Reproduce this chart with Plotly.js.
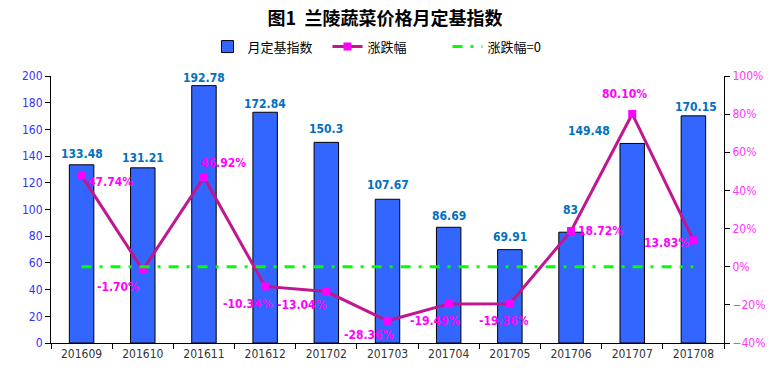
<!DOCTYPE html>
<html><head><meta charset="utf-8">
<script src="https://cdn.plot.ly/plotly-3.0.1.min.js"></script>
<style>body{margin:0;background:#fff}#chart{width:770px;height:374px}</style>
</head><body><div id="chart"></div>
<script>
const categories = ['201609','201610','201611','201612','201702','201703','201704','201705','201706','201707','201708'];
const indexValues = [133.48,131.21,192.78,172.84,150.3,107.67,86.69,69.91,83,149.48,170.15];
const changePct = [47.74,-1.70,46.92,-10.34,-13.04,-28.36,-19.49,-19.36,18.72,80.10,13.83];
const zeroLine = [0,0,0,0,0,0,0,0,0,0,0];
const pctLabels = ['47.74%','-1.70%','46.92%','-10.34%','-13.04%','-28.36%','-19.49%','-19.36%','18.72%','80.10%','13.83%'];

// label offsets (screen px; dy positive = down)
const barLabelOff = [[0,-11],[0,-10],[0,-8],[0,-8],[0,-13],[0,-14],[0,-11],[0,-13],[-1,-22],[-43,-12],[3,-9]];
const pctLabelOff = [[29,6],[-25,17],[20,-14],[-17,18],[-24,13],[-19,14],[-14,17],[-6,17],[29,0],[-8,-20],[-27,3]];

const numFont = 'DejaVu Sans Condensed, DejaVu Sans, sans-serif';
const cjk = 'Noto Sans CJK SC, sans-serif';

const traces = [
  {type:'bar', name:'月定基指数', x:categories, y:indexValues,
   marker:{color:'#3366FF', line:{color:'#000', width:1}}, yaxis:'y', hoverinfo:'skip'},
  {type:'scatter', mode:'lines+markers', name:'涨跌幅', x:categories, y:changePct, yaxis:'y2',
   line:{color:'#C0168F', width:3}, marker:{symbol:'square', size:8, color:'#FF00FF'}},
  {type:'scatter', mode:'lines', name:'涨跌幅=0', x:categories, y:zeroLine, yaxis:'y2',
   line:{color:'#00FF00', width:3, dash:'10px,8px,3px,8px'}}
];

const annotations = [];
categories.forEach((c,i)=>{
  annotations.push({x:i, y:indexValues[i], xref:'x', yref:'y', text:String(indexValues[i]),
    showarrow:false, xanchor:'center', yanchor:'middle',
    xshift:barLabelOff[i][0], yshift:-barLabelOff[i][1],
    font:{family:numFont, size:12, color:'#0070C0', weight:'bold'}});
  annotations.push({x:i, y:changePct[i], xref:'x', yref:'y2', text:pctLabels[i],
    showarrow:false, xanchor:'center', yanchor:'middle',
    xshift:pctLabelOff[i][0], yshift:-pctLabelOff[i][1],
    font:{family:numFont, size:12, color:'#FF00FF', weight:'bold'}});
});

const layout = {
  width:770, height:374,
  margin:{l:51, r:46, t:76, b:31},
  paper_bgcolor:'#fff', plot_bgcolor:'#fff',
  showlegend:true,
  title:{text:'图1  兰陵蔬菜价格月定基指数', x:0.5, xanchor:'center', y:0.95, yanchor:'middle',
    font:{family:cjk, size:18, color:'#000', weight:'bold'}},
  legend:{orientation:'h', x:0.5, xanchor:'center', y:1.11, yanchor:'middle',
    font:{family:cjk, size:13, color:'#000'}, tracegroupgap:0, entrywidth:75, entrywidthmode:'pixels'},
  bargap:0.6,
  xaxis:{type:'category', range:[-0.5, categories.length-0.5], showline:true, linecolor:'#000', linewidth:1,
    ticks:'outside', tickson:'boundaries', ticklen:5, tickcolor:'#000', tickangle:0,
    tickfont:{family:numFont, size:12, color:'#333'}, showgrid:false, zeroline:false, fixedrange:true},
  yaxis:{range:[0,200], dtick:20, showline:true, linecolor:'#000', linewidth:1,
    ticks:'outside', ticklen:5, tickcolor:'#000', showgrid:false, zeroline:false,
    tickfont:{family:numFont, size:12, color:'#3333FF'}},
  yaxis2:{range:[-40,100], dtick:20, overlaying:'y', side:'right', ticksuffix:'%',
    showline:true, linecolor:'#000', linewidth:1, ticks:'outside', ticklen:5, tickcolor:'#000',
    showgrid:false, zeroline:false, tickfont:{family:numFont, size:12, color:'#FF33FF'}},
  annotations:annotations
};

Plotly.newPlot('chart', traces, layout, {displayModeBar:false, staticPlot:true});
</script></body></html>
